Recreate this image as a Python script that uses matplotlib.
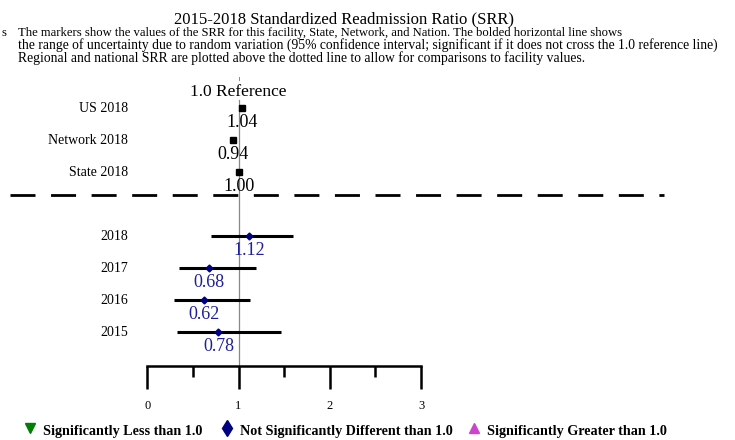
import matplotlib
matplotlib.use("Agg")
import matplotlib.pyplot as plt
from matplotlib.lines import Line2D

plt.rcParams['font.family'] = ['Liberation Serif', 'DejaVu Serif']

# comparison rows (above the dotted line)
ref_labels = ['US 2018', 'Network 2018', 'State 2018']
ref_srr = [1.04, 0.94, 1.00]

# facility rows with 95% CI
years = ['2018', '2017', '2016', '2015']
srr = [1.12, 0.68, 0.62, 0.78]
ci_low = [0.70, 0.35, 0.29, 0.33]
ci_high = [1.60, 1.19, 1.13, 1.47]

legend_labels = ['Significantly Less than 1.0',
                 'Not Significantly Different than 1.0',
                 'Significantly Greater than 1.0']

W, H = 735, 440
fig = plt.figure(figsize=(W / 100, H / 100), dpi=100)

# axes placed so that x=0..3 spans the axis line
x0_px, x3_px, base_px = 147.3, 421.0, 365.7
row_px = 32.0
y_top, y_bot = -0.6, 8.05
ax = fig.add_axes([x0_px / W, 1 - base_px / H, (x3_px - x0_px) / W,
                   (y_bot - y_top) * row_px / H])
ax.set_xlim(0, 3)
ax.set_ylim(y_bot, y_top)

navy = '#000080'
blue_txt = '#1f1f9c'

ref_rows = [0, 1, 2]
fac_rows = [4, 5, 6, 7]
sep_row = 2.72

# 1.0 reference line
ax.plot([1, 1], [-0.25, y_bot], color='#888888', lw=0.9, zorder=1, clip_on=False)
ax.plot([1, 1], [-0.98, -0.88], color='#888888', lw=0.7, clip_on=False)
ax.text(1, -0.5, '1.0 Reference', ha='center', va='center', fontsize=12.5)

# comparison rows
for r, lab, v in zip(ref_rows, ref_labels, ref_srr):
    ax.plot([v], [r], marker='s', color='black', ms=5, zorder=3, clip_on=False)
    ax.text(-0.21, r, lab, ha='right', va='center', fontsize=10)
    ax.text(v, r + 0.46, f'{v:.2f}', ha='center', va='center', fontsize=13)

# dotted separator
ax.plot([-1.5, 5.66], [sep_row, sep_row], color='black', lw=2,
        dashes=(9, 5.6), clip_on=False)

# facility rows
for r, lab, v, lo, hi in zip(fac_rows, years, srr, ci_low, ci_high):
    ax.plot([lo, hi], [r, r], color='black', lw=2.2, solid_capstyle='butt', zorder=2)
    ax.plot([v], [r], marker='D', color=navy, ms=3.5, zorder=3)
    ax.text(-0.21, r, lab, ha='right', va='center', fontsize=10)
    ax.text(v, r + 0.46, f'{v:.2f}', ha='center', va='center', fontsize=13,
            color=blue_txt)

# axis styling
for s in ['left', 'right', 'top']:
    ax.spines[s].set_visible(False)
ax.spines['bottom'].set_linewidth(1.8)
ax.set_yticks([])
ax.set_xticks([0, 1, 2, 3])
ax.set_xticklabels(['0', '1', '2', '3'])
ax.set_xticks([0.5, 1.5, 2.5], minor=True)
ax.tick_params(axis='x', which='major', direction='out', length=16.5, width=1.8,
               labelsize=9, pad=8)
ax.tick_params(axis='x', which='minor', direction='out', length=8, width=1.8)

# header text
fig.text(344 / W, 1 - 19 / H, '2015-2018 Standardized Readmission Ratio (SRR)',
         ha='center', va='center', fontsize=12)
desc = ['The markers show the values of the SRR for this facility, State, Network, and Nation. The bolded horizontal line shows',
        'the range of uncertainty due to random variation (95% confidence interval; significant if it does not cross the 1.0 reference line)',
        'Regional and national SRR are plotted above the dotted line to allow for comparisons to facility values.']
desc_size = [9.1, 9.8, 9.8]
for i, line in enumerate(desc):
    fig.text(17.5 / W, 1 - (33 + 12.5 * i) / H, line, ha='left', va='center',
             fontsize=desc_size[i])
fig.text(1 / W, 1 - 33 / H, 's', ha='left', va='center', fontsize=9.1)

# legend
leg_y = 1 - 431 / H
items = [('v', '#008000', 30, 43, 7), ('d', navy, 227, 240, 8), ('^', '#cc44cc', 474, 487, 7)]
for (m, c, mx, tx, ms), lab in zip(items, legend_labels):
    fig.add_artist(Line2D([mx / W], [1 - 428 / H], marker=m, color=c, ms=ms,
                          linestyle='none', transform=fig.transFigure))
    fig.text(tx / W, leg_y, lab, ha='left', va='center', fontsize=10.2, fontweight='bold')

fig.savefig('out.png', dpi=100)
